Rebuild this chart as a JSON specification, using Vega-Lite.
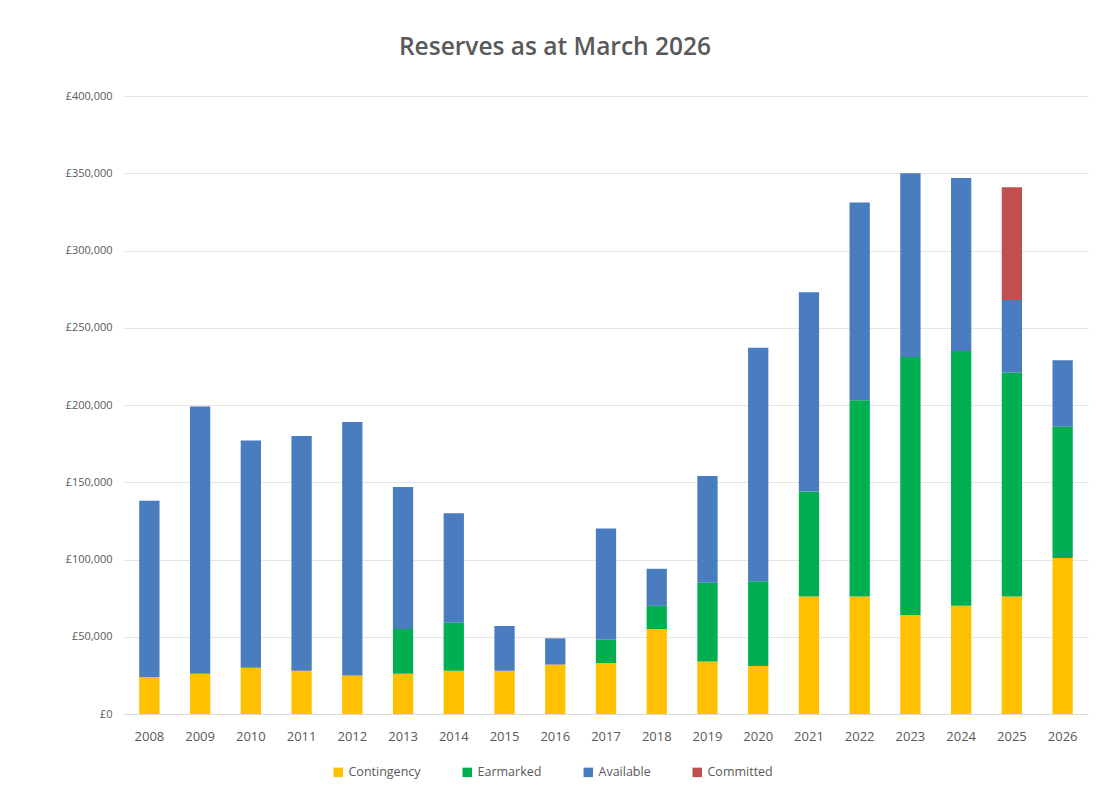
{
  "$schema": "https://vega.github.io/schema/vega-lite/v6.json",
  "autosize": {"type": "fit", "contains": "padding"},
  "width": 1096,
  "height": 798,
  "padding": {"left": 65, "top": 34, "right": 8, "bottom": 55},
  "background": "white",
  "title": {"text": "Reserves as at March 2026", "fontSize": 24.5, "font": "Open Sans", "fontWeight": 600, "color": "#595959", "offset": 30, "anchor": "middle", "dx": -51},
  "data": {"values": [
    {"year": "2008", "category": "Contingency", "ord": 1, "value": 24000},
    {"year": "2008", "category": "Available", "ord": 3, "value": 114000},
    {"year": "2009", "category": "Contingency", "ord": 1, "value": 26000},
    {"year": "2009", "category": "Available", "ord": 3, "value": 173000},
    {"year": "2010", "category": "Contingency", "ord": 1, "value": 30000},
    {"year": "2010", "category": "Available", "ord": 3, "value": 147000},
    {"year": "2011", "category": "Contingency", "ord": 1, "value": 28000},
    {"year": "2011", "category": "Available", "ord": 3, "value": 152000},
    {"year": "2012", "category": "Contingency", "ord": 1, "value": 25000},
    {"year": "2012", "category": "Available", "ord": 3, "value": 164000},
    {"year": "2013", "category": "Contingency", "ord": 1, "value": 26000},
    {"year": "2013", "category": "Earmarked", "ord": 2, "value": 29000},
    {"year": "2013", "category": "Available", "ord": 3, "value": 92000},
    {"year": "2014", "category": "Contingency", "ord": 1, "value": 28000},
    {"year": "2014", "category": "Earmarked", "ord": 2, "value": 31000},
    {"year": "2014", "category": "Available", "ord": 3, "value": 71000},
    {"year": "2015", "category": "Contingency", "ord": 1, "value": 28000},
    {"year": "2015", "category": "Available", "ord": 3, "value": 29000},
    {"year": "2016", "category": "Contingency", "ord": 1, "value": 32000},
    {"year": "2016", "category": "Available", "ord": 3, "value": 17000},
    {"year": "2017", "category": "Contingency", "ord": 1, "value": 33000},
    {"year": "2017", "category": "Earmarked", "ord": 2, "value": 15000},
    {"year": "2017", "category": "Available", "ord": 3, "value": 72000},
    {"year": "2018", "category": "Contingency", "ord": 1, "value": 55000},
    {"year": "2018", "category": "Earmarked", "ord": 2, "value": 15000},
    {"year": "2018", "category": "Available", "ord": 3, "value": 24000},
    {"year": "2019", "category": "Contingency", "ord": 1, "value": 34000},
    {"year": "2019", "category": "Earmarked", "ord": 2, "value": 51000},
    {"year": "2019", "category": "Available", "ord": 3, "value": 69000},
    {"year": "2020", "category": "Contingency", "ord": 1, "value": 31000},
    {"year": "2020", "category": "Earmarked", "ord": 2, "value": 55000},
    {"year": "2020", "category": "Available", "ord": 3, "value": 151000},
    {"year": "2021", "category": "Contingency", "ord": 1, "value": 76000},
    {"year": "2021", "category": "Earmarked", "ord": 2, "value": 68000},
    {"year": "2021", "category": "Available", "ord": 3, "value": 129000},
    {"year": "2022", "category": "Contingency", "ord": 1, "value": 76000},
    {"year": "2022", "category": "Earmarked", "ord": 2, "value": 127000},
    {"year": "2022", "category": "Available", "ord": 3, "value": 128000},
    {"year": "2023", "category": "Contingency", "ord": 1, "value": 64000},
    {"year": "2023", "category": "Earmarked", "ord": 2, "value": 167000},
    {"year": "2023", "category": "Available", "ord": 3, "value": 119000},
    {"year": "2024", "category": "Contingency", "ord": 1, "value": 70000},
    {"year": "2024", "category": "Earmarked", "ord": 2, "value": 165000},
    {"year": "2024", "category": "Available", "ord": 3, "value": 112000},
    {"year": "2025", "category": "Contingency", "ord": 1, "value": 76000},
    {"year": "2025", "category": "Earmarked", "ord": 2, "value": 145000},
    {"year": "2025", "category": "Available", "ord": 3, "value": 47000},
    {"year": "2025", "category": "Committed", "ord": 4, "value": 73000},
    {"year": "2026", "category": "Contingency", "ord": 1, "value": 101000},
    {"year": "2026", "category": "Earmarked", "ord": 2, "value": 85000},
    {"year": "2026", "category": "Available", "ord": 3, "value": 43000}
  ]},
  "mark": {"type": "bar"},
  "encoding": {
    "x": {"field": "year", "type": "nominal", "title": null,
      "scale": {"paddingInner": 0.6, "paddingOuter": 0.3},
      "axis": {"labelAngle": 0, "labelFont": "Open Sans", "labelFontSize": 13, "labelColor": "#595959", "ticks": false, "domainColor": "#D9D9D9", "labelPadding": 16}},
    "y": {"field": "value", "type": "quantitative", "aggregate": "sum", "stack": "zero", "title": null,
      "scale": {"domain": [0, 400000]},
      "axis": {"values": [0, 50000, 100000, 150000, 200000, 250000, 300000, 350000, 400000], "labelExpr": "'£' + format(datum.value, ',')", "labelFont": "Open Sans", "labelFontSize": 11, "labelColor": "#595959", "ticks": false, "domain": false, "gridColor": "#E4E4E4", "labelPadding": 12}},
    "color": {"field": "category", "type": "nominal", "title": null,
      "scale": {"domain": ["Contingency", "Earmarked", "Available", "Committed"], "range": ["#FFC000", "#00B050", "#4A7CC0", "#C0504D"]},
      "legend": {"orient": "none", "legendX": 208, "legendY": 670, "direction": "horizontal", "symbolType": "square", "symbolSize": 90, "labelFont": "Open Sans", "labelFontSize": 12.5, "labelColor": "#595959", "columnPadding": 40}},
    "order": {"field": "ord", "type": "quantitative"}
  },
  "config": {"view": {"stroke": null}}
}
